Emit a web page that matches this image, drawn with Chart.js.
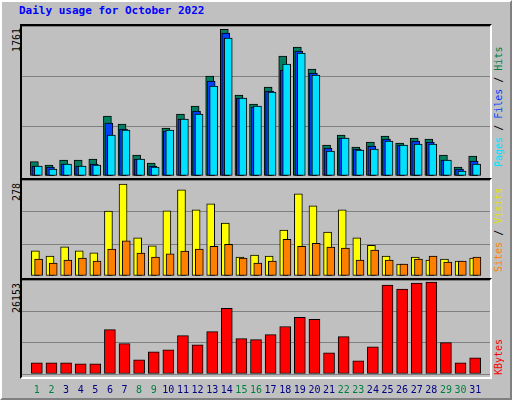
<!DOCTYPE html>
<html><head><meta charset="utf-8">
<script src="https://cdn.jsdelivr.net/npm/chart.js@4"></script>
<style>
body{margin:0;width:512px;height:400px;background:#fff;}
#wrap{position:absolute;left:0;top:0;width:508px;height:396px;background:#c0c0c0;border-top:2px solid #fff;border-left:2px solid #fff;border-right:2px solid #808080;border-bottom:2px solid #808080;}
.panel{position:absolute;left:20px;width:468px;border-top:2px solid #000;border-left:2px solid #000;border-bottom:2px solid #fff;border-right:2px solid #fff;}
.t{position:absolute;font-family:"DejaVu Sans Mono",monospace;font-size:11px;font-weight:bold;white-space:nowrap;}
.rot{position:absolute;font-family:"DejaVu Sans Mono",monospace;font-size:10px;white-space:nowrap;transform-origin:0 0;transform:rotate(-90deg);}
canvas{position:absolute;}
</style></head><body>
<div id="wrap"></div>
<div class="t" style="left:19px;top:4px;color:#0000ff;">Daily usage for October 2022</div>
<div class="panel" style="top:24px;height:152px;"></div>
<div class="panel" style="top:178px;height:98px;"></div>
<div class="panel" style="top:278px;height:97px;"></div>
<div class="rot" style="left:11px;top:52px;color:#000;">1761</div>
<div class="rot" style="left:11px;top:201px;color:#000;">278</div>
<div class="rot" style="left:11px;top:313px;color:#000;">26153</div>
<div class="rot" style="left:493px;top:167px;"><span style="color:#00e0ff">Pages</span><span style="color:#000"> / </span><span style="color:#0040ff">Files</span><span style="color:#000"> / </span><span style="color:#008040">Hits</span></div>
<div class="rot" style="left:493px;top:272px;"><span style="color:#ff8000">Sites</span><span style="color:#000"> / </span><span style="color:#e0e000">Visits</span></div>
<div class="rot" style="left:493px;top:375px;"><span style="color:#ff0000">KBytes</span></div>
<canvas id="c1" style="left:22px;top:26px;width:468px;height:150px;"></canvas>
<canvas id="c2" style="left:22px;top:180px;width:468px;height:96px;"></canvas>
<canvas id="c3" style="left:22px;top:280px;width:468px;height:118px;"></canvas>
<script>
const days = Array.from({length:31},(_,i)=>i+1);
const weekends = [1,2,8,9,15,16,22,23,29,30];
const hits = [172,132,192,192,204,720,624,252,156,576,744,840,1200,1761,972,864,1068,1440,1548,1284,372,492,348,408,480,396,456,444,252,108,240];
const files = [120,108,144,120,144,636,564,204,120,540,684,780,1140,1716,936,828,1020,1272,1500,1236,336,456,324,360,444,372,420,408,192,84,180];
const pages = [120,84,144,120,132,492,552,204,108,552,684,744,1080,1656,936,840,1008,1344,1476,1212,300,456,312,324,420,372,384,384,192,60,144];
const visits = [76,60,88,76,70,196,278,115,91,197,260,200,218,160,57,63,60,139,248,212,133,200,115,93,60,36,57,48,51,45,54];
const sites = [51,39,48,54,45,81,106,69,57,67,75,81,90,96,54,39,45,111,90,99,87,84,48,78,48,36,51,60,42,45,57];
const kbytes = [3160,3160,3160,2870,2870,12640,8620,4020,6320,6900,10920,8330,12070,18680,10060,9770,11200,13500,16090,15520,6030,10630,3740,7760,25290,24140,25860,26153,8910,3160,4600];

// first dataset is painted last (on top)
function ds(vals, off, color, w){
  return {data: vals.map((v,i)=>({x:days[i]+off, y:v})), backgroundColor:color,
    borderColor:'#000', borderWidth:1, borderSkipped:false, barThickness:w, grouped:false};
}
function make(id, sets, max, showX){
  const cv = document.getElementById(id);
  cv.width = parseInt(cv.style.width); cv.height = parseInt(cv.style.height);
  new Chart(cv, {
    type:'bar',
    data:{datasets:sets},
    options:{responsive:false, animation:false, devicePixelRatio:1,
      layout:{padding:0},
      plugins:{legend:{display:false}, tooltip:{enabled:false}},
      scales:{
        x:{type:'linear', min:0.5, max:31.5, display:showX,
          afterBuildTicks:s=>{s.ticks=days.map(d=>({value:d}));},
          grid:{display:false}, border:{display:false},
          ticks:{autoSkip:false, maxRotation:0, padding:2,
            font:{family:'DejaVu Sans Mono', size:10},
            color:c=>weekends.includes(c.tick.value)?'#008040':'#000080'}},
        y:{min:0, max:max, afterBuildTicks:s=>{s.ticks=[0,max/3,2*max/3,max].map(v=>({value:v}));},
          ticks:{display:false}, grid:{drawTicks:false, color:'#808080', lineWidth:1},
          border:{display:false}}
      }}
  });
}
make('c1',[ds(pages,0.1,'#00e0ff',8),ds(files,-0.07,'#0040ff',8),ds(hits,-0.17,'#008060',8)],1800,false);
make('c2',[ds(sites,0.12,'#ff8000',8),ds(visits,-0.1,'#ffff00',8)],290,false);
make('c3',[ds(kbytes,0,'#ff0000',11)],26730,true);
</script>
</body></html>
